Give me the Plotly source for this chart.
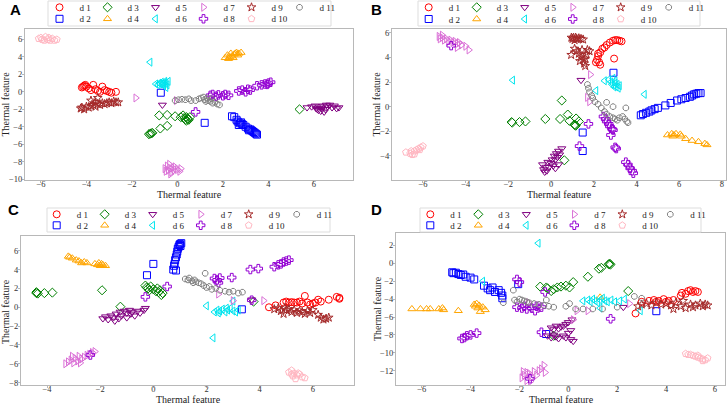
import plotly.graph_objects as go

# ---------------- class styles ----------------
names = ["d 1", "d 2", "d 3", "d 4", "d 5", "d 6", "d 7", "d 8", "d 9", "d 10", "d 11"]
colors = ["#ff0000", "#0000ff", "#008000", "#ffa500", "#800080", "#00e5ee",
          "#da70d6", "#9400d3", "#a52a2a", "#ffb6c1", "#808080"]
symbols = ["circle-open", "square-open", "diamond-open", "triangle-up-open",
           "triangle-down-open", "triangle-left-open", "triangle-right-open",
           "cross-open", "star-open", "pentagon-open", "octagon-open"]
sizes = [7, 7, 7, 7, 7, 7, 7, 7, 6.5, 7, 6]

# ---------------- Panel A ----------------
A_d1 = [(-4.2,0.5),(-4.15,0.6),(-4.1,0.7),(-4.05,0.8),(-4.0,0.6),(-3.9,0.4),(-3.7,0.8),(-3.6,0.3),
        (-3.5,0.1),(-3.3,0.6),(-3.2,0.2),(-3.1,0.1),(-3.0,0.0),(-2.9,-0.1),(-2.7,0.0),(-3.8,0.2),(-3.4,0.0)]
A_d2 = [(-0.73,-0.1),(1.2,-3.55),(2.4,-2.8),(2.5,-2.9),(2.6,-3.2),(2.65,-3.4),(2.7,-3.8),(2.75,-3.6),
        (2.8,-3.5),(2.9,-3.8),(3.0,-4.0),(3.1,-4.2),(3.15,-4.4),(3.2,-4.3),(3.3,-4.5),(3.35,-4.6),
        (3.4,-4.7),(3.45,-4.8),(3.5,-4.9),(3.25,-4.4),(2.85,-3.7)]
A_d3 = [(5.37,-2.0),(-0.8,-2.7),(-0.45,-2.65),(-0.1,-2.8),(0.15,-2.9),(0.25,-2.7),(0.3,-3.0),(0.35,-3.2),
        (0.4,-2.9),(0.45,-3.1),(0.5,-3.2),(0.55,-2.9),(0.4,-3.3),(-0.45,-3.9),(-0.75,-4.2),(-1.1,-4.7),
        (-1.2,-4.8),(-1.25,-4.85),(-1.15,-4.75)]
A_d4 = [(2.1,3.9),(2.2,4.2),(2.3,4.0),(2.35,4.4),(2.4,4.1),(2.5,4.3),(2.6,4.5),(2.7,4.4),(2.8,4.5),
        (2.45,3.9),(2.25,3.8),(2.65,4.2),(2.55,4.4)]
A_d5 = [(-0.66,-1.5),(5.7,-1.8),(5.9,-1.7),(6.05,-1.6),(6.1,-1.9),(6.2,-2.1),(6.25,-1.7),(6.3,-2.2),
        (6.35,-1.9),(6.4,-1.6),(6.5,-2.0),(6.55,-1.5),(6.6,-1.7),(6.7,-1.5),(6.8,-1.8),(6.9,-1.6),
        (7.0,-1.9),(7.1,-1.8),(6.45,-2.3),(6.15,-2.0)]
A_d6 = [(-1.2,3.4),(-0.95,0.9),(-0.85,0.8),(-0.8,1.0),(-0.75,0.9),(-0.7,1.1),(-0.65,0.9),(-0.6,1.0),
        (-0.55,1.2),(-0.5,1.0),(-0.45,0.8),(-0.5,0.5),(-0.6,0.7),(-0.4,1.2)]
A_d7 = [(-1.83,-0.7),(-0.05,-1.0),(-0.55,-8.8),(-0.45,-8.5),(-0.4,-9.0),(-0.35,-8.3),(-0.3,-8.8),
        (-0.25,-9.2),(-0.2,-8.7),(-0.15,-9.0),(-0.1,-8.6),(0.0,-8.9),(0.1,-9.1),(0.15,-8.8),(-0.3,-9.4),(-0.5,-9.1)]
A_d8 = [(0.8,-2.3),(1.45,-0.4),(1.55,-0.3),(1.7,-0.5),(1.8,-0.35),(2.0,-0.45),(2.1,-0.3),(2.25,-0.4),
        (2.7,0.1),(2.85,0.2),(3.0,0.0),(3.1,0.3),(3.2,0.2),(3.5,0.7),(3.7,0.8),(3.85,0.9),(4.0,1.0),
        (4.1,1.1),(3.95,0.85)]
A_d9 = [(-4.25,-1.9),(-4.2,-1.8),(-4.1,-2.0),(-4.0,-1.7),(-3.9,-1.8),(-3.8,-1.6),(-3.7,-1.5),(-3.6,-1.7),
        (-3.5,-0.7),(-3.5,-1.4),(-3.4,-1.5),(-3.3,-1.3),(-3.2,-1.4),(-3.1,-1.3),(-3.0,-1.2),(-2.9,-1.3),
        (-2.8,-1.1),(-2.7,-1.2),(-2.6,-1.2),(-3.6,-1.2),(-3.8,-1.0)]
A_d10 = [(-6.1,6.1),(-5.95,6.0),(-5.8,6.3),(-5.7,6.0),(-5.6,5.9),(-5.5,6.1),(-5.4,5.9),(-5.3,6.0),
         (-5.85,5.9),(-6.0,6.2),(-5.65,6.2)]
A_d11 = [(-0.1,-1.0),(0.05,-0.9),(0.2,-0.85),(0.35,-0.9),(0.5,-0.8),(0.6,-1.0),(0.8,-1.0),(0.95,-0.8),
         (1.05,-0.7),(1.15,-0.6),(1.2,-0.9),(1.3,-0.7),(1.35,-1.0),(1.45,-1.1),(1.5,-0.8),(1.55,-1.3),
         (1.65,-1.2),(1.75,-1.4),(1.85,-1.5),(1.25,-1.1)]

# ---------------- Panel B ----------------
B_d1 = [(2.1,3.6),(2.15,3.8),(2.2,4.1),(2.3,4.4),(2.4,4.7),(2.5,4.8),(2.6,5.0),(2.75,5.2),(2.9,5.35),
        (3.0,5.4),(3.1,5.4),(3.2,5.35),(3.3,5.3),(2.3,3.4),(2.95,3.9),(2.25,3.6),(2.2,4.3)]
B_d2 = [(2.92,2.75),(1.48,-2.1),(1.48,-3.6),(4.2,-0.7),(4.3,-0.6),(4.45,-0.5),(4.6,-0.4),(4.7,-0.3),
        (4.85,-0.2),(5.0,-0.1),(5.35,0.1),(5.6,0.3),(5.9,0.5),(6.1,0.6),(6.3,0.7),(6.5,0.8),(6.6,0.9),
        (6.7,1.0),(6.8,1.05),(6.9,1.1),(7.0,1.1)]
B_d3 = [(-1.82,-1.3),(-1.85,-1.25),(-1.48,-1.25),(-1.2,-1.2),(-0.27,-1.0),(0.5,0.5),(0.42,-1.0),
        (0.78,-0.64),(0.86,-1.15),(1.12,-1.5),(1.1,-1.45),(1.15,-1.55),(1.17,-0.96),(1.3,-1.2),(0.62,-4.35)]
B_d4 = [(5.45,-2.3),(5.65,-2.2),(5.75,-2.3),(5.85,-2.2),(6.05,-2.25),(6.3,-2.6),(6.6,-2.75),(6.9,-2.85),
        (7.2,-3.0),(7.3,-3.1),(5.7,-2.4),(6.1,-2.4)]
B_d5 = [(1.4,2.15),(-0.4,-4.7),(-0.35,-5.1),(-0.3,-5.3),(-0.25,-4.9),(-0.2,-5.2),(-0.1,-4.9),(0.0,-4.6),
        (0.05,-4.3),(0.1,-4.8),(0.15,-4.0),(0.2,-4.3),(0.25,-3.8),(0.3,-4.1),(0.35,-3.6),(0.4,-3.9),
        (0.35,-4.7),(0.5,-3.4),(-0.15,-4.5),(0.2,-5.0)]
B_d6 = [(-1.8,2.15),(4.37,1.0),(2.1,1.3),(2.5,2.1),(2.7,2.2),(2.8,2.0),(2.85,1.8),(2.9,2.3),(3.0,1.9),
        (3.05,1.6),(3.1,1.8),(3.15,1.5),(3.2,1.7),(2.95,1.6),(3.0,2.1)]
B_d7 = [(-5.25,5.7),(-5.2,5.5),(-5.1,5.6),(-5.0,5.4),(-4.9,5.5),(-4.8,5.3),(-4.7,5.4),(-4.6,5.2),
        (-4.5,5.3),(-4.4,5.1),(-4.3,5.2),(-4.2,5.0),(-4.0,4.9),(-3.85,4.6),(-4.4,4.8),(-5.1,5.8),
        (1.84,2.6),(1.7,0.75),(1.8,0.4)]
B_d8 = [(-4.68,4.95),(1.33,-3.2),(1.75,-1.4),(2.45,-0.8),(2.55,-1.0),(2.6,-1.2),(2.7,-1.4),(2.75,-1.6),
        (2.85,-1.8),(2.9,-1.9),(2.8,-2.3),(3.0,-3.3),(3.05,-3.4),(3.5,-4.5),(3.6,-4.7),(3.7,-5.0),
        (3.8,-5.2),(3.85,-5.4)]
B_d9 = [(0.95,5.6),(1.0,5.5),(1.05,5.6),(1.1,5.4),(1.15,5.6),(1.2,5.5),(1.3,5.55),(1.4,5.5),(1.5,5.45),
        (0.94,4.2),(1.1,4.7),(1.2,4.5),(1.3,4.3),(1.4,4.0),(1.45,4.6),(1.5,3.8),(1.55,3.5),(1.6,3.3),
        (1.7,4.6),(1.8,4.5),(1.65,4.2),(1.35,3.7),(1.6,3.9)]
B_d10 = [(-6.8,-3.7),(-6.6,-3.8),(-6.5,-3.9),(-6.4,-3.6),(-6.3,-3.5),(-6.2,-3.4),(-6.1,-3.3),(-6.0,-3.2),
         (-6.4,-3.85),(-6.15,-3.5),(-6.55,-3.6)]
B_d11 = [(1.7,1.8),(1.75,1.5),(1.8,1.2),(1.9,0.9),(1.95,0.7),(2.05,0.4),(2.2,0.2),(2.35,-0.1),(2.5,-0.4),
         (2.6,-0.6),(2.75,-0.8),(2.9,-0.9),(3.0,-1.0),(3.2,-0.9),(3.35,-0.8),(3.45,-1.0),(3.55,-1.2),
         (3.6,-1.3),(3.5,-0.1),(2.9,0.0),(2.6,0.35),(3.1,-1.1)]

# ---------------- Panel C ----------------
C_d1 = [(4.35,0.0),(4.6,0.2),(4.9,0.5),(5.0,0.6),(5.1,0.5),(5.2,0.55),(5.3,0.5),(5.4,0.5),(5.5,0.6),
        (5.6,0.4),(5.7,1.2),(5.8,0.5),(6.0,0.4),(6.2,0.8),(6.3,0.6),(6.6,0.8),(6.9,1.1),(7.0,0.9),
        (7.0,1.0),(6.1,0.5),(5.9,0.3)]
C_d2 = [(-0.24,3.4),(0.0,4.6),(0.75,4.0),(0.78,4.4),(0.8,4.6),(0.82,5.0),(0.85,5.3),(0.88,5.6),(0.9,5.9),
        (0.92,6.2),(0.95,6.4),(0.98,6.6),(1.0,6.7),(1.05,6.8),(1.02,6.5),(0.85,3.9),(3.33,-0.22)]
C_d3 = [(-4.4,1.5),(-4.35,1.45),(-4.4,1.6),(-4.1,1.5),(-3.8,1.55),(-1.93,1.8),(-1.24,0.06),(-0.3,2.3),
        (-0.25,2.1),(-0.2,2.0),(-0.15,1.8),(-0.1,2.2),(0.0,1.9),(0.1,1.7),(0.15,2.0),(0.2,1.6),(0.3,1.3),
        (0.35,1.5),(0.25,1.8),(3.77,0.6)]
C_d4 = [(-3.2,5.4),(-3.15,5.3),(-3.05,5.2),(-2.9,5.0),(-2.8,4.9),(-2.7,4.7),(-2.6,4.8),(-2.5,4.7),
        (-2.2,4.6),(-2.1,4.5),(-2.05,4.7),(-1.95,4.6),(-1.9,4.5),(-1.8,4.4),(-2.0,4.4)]
C_d5 = [(-1.9,-1.2),(-1.8,-1.0),(-1.7,-1.3),(-1.6,-0.9),(-1.5,-1.1),(-1.4,-0.7),(-1.3,-1.2),(-1.25,-0.5),
        (-1.2,-0.9),(-1.1,-0.4),(-1.0,-0.6),(-0.9,-0.3),(-0.85,-0.7),(-0.8,-0.5),(-0.7,-0.9),(-0.6,-0.4),
        (-0.5,-0.6),(-0.35,-0.3),(-1.45,-1.45),(-1.0,-1.1),(-0.3,-0.1),(3.7,0.8)]
C_d6 = [(2.0,0.15),(2.25,-3.25),(2.3,-0.5),(2.4,-0.3),(2.5,-0.4),(2.6,-0.2),(2.7,-0.5),(2.8,-0.3),
        (2.9,-0.1),(3.0,-0.4),(3.1,-0.5),(3.2,-0.3),(3.0,0.65),(2.45,-0.6),(2.75,-0.1)]
C_d7 = [(-3.3,-6.0),(-3.2,-5.8),(-3.1,-5.6),(-3.0,-5.9),(-2.95,-5.4),(-2.85,-5.7),(-2.8,-5.2),(-2.7,-5.5),
        (-2.6,-5.3),(-2.5,-5.1),(-2.4,-5.0),(-2.3,-4.8),(-2.2,-4.7),(-3.05,-5.2),(-2.75,-5.9),
        (2.45,1.4),(3.0,0.7),(4.15,0.7)]
C_d8 = [(-2.37,-5.07),(-0.3,1.1),(0.52,2.2),(2.3,3.05),(2.4,2.9),(2.45,2.6),(2.5,3.1),(2.95,3.15),
        (3.65,4.0),(3.95,4.1),(4.55,4.3),(4.7,4.5),(4.8,4.6),(4.9,4.8),(5.0,4.9),(5.1,5.0),(3.7,0.75)]
C_d9 = [(4.55,-0.2),(4.7,-0.1),(4.8,-0.4),(4.9,-0.7),(5.0,-0.3),(5.1,-0.2),(5.2,-0.5),(5.3,-0.3),
        (5.4,-0.6),(5.5,-0.4),(5.6,-0.5),(5.7,-0.7),(5.8,-0.4),(5.9,-0.6),(6.0,-0.3),(6.3,-1.1),
        (6.4,-1.3),(6.5,-1.2),(6.6,-1.1),(6.2,-0.8),(4.95,-0.05)]
C_d10 = [(5.1,-6.9),(5.2,-7.1),(5.25,-7.3),(5.3,-7.0),(5.4,-7.2),(5.5,-7.1),(5.6,-7.4),(5.7,-7.5),
         (5.35,-7.6),(5.45,-7.0),(5.2,-6.7)]
C_d11 = [(1.2,3.0),(1.3,2.9),(1.35,3.1),(1.45,2.8),(1.55,2.9),(1.6,2.7),(1.7,2.6),(1.8,2.5),(1.9,2.3),
         (2.0,2.1),(2.1,2.2),(2.2,1.9),(2.35,2.0),(2.5,1.8),(2.7,1.7),(2.85,1.6),(3.0,1.7),(3.2,1.5),
         (3.35,1.6),(1.95,3.6),(1.5,2.6)]

# ---------------- Panel D ----------------
D_d1 = [(2.75,-5.6),(3.0,-4.3),(3.3,-4.2),(3.5,-4.1),(3.7,-4.2),(3.9,-4.0),(4.1,-4.2),(4.3,-4.1),
        (4.6,-3.6),(4.65,-3.3),(4.9,-3.1),(5.0,-3.0),(5.1,-3.2),(5.2,-3.1),(5.3,-3.2),(4.8,-3.4),
        (4.0,-4.3),(3.6,-4.3)]
D_d2 = [(-4.75,-1.0),(-4.7,-1.1),(-4.6,-1.05),(-4.5,-1.2),(-4.4,-1.3),(-4.3,-1.25),(-4.2,-1.5),(-4.0,-1.6),
        (-3.85,-1.8),(-3.45,-2.5),(-3.3,-2.8),(-3.2,-3.0),(-3.0,-3.2),(-2.85,-3.0),(-2.75,-3.3),(-2.7,-3.6),
        (-2.7,-3.9),(-3.1,-2.7),(-2.05,-2.33),(-0.91,-7.9),(3.6,-5.35)]
D_d3 = [(-1.15,-2.6),(-0.9,-2.7),(-0.85,-2.8),(-0.7,-3.1),(-0.6,-2.9),(-0.45,-2.7),(-0.3,-2.6),(-0.1,-2.5),
        (0.05,-2.7),(0.2,-2.1),(0.8,-1.5),(1.25,-0.6),(1.35,-0.5),(1.65,-0.1),(1.7,-0.05),(1.72,-0.15),
        (2.45,-3.1),(-0.6,-8.1)]
D_d4 = [(-6.4,-5.1),(-6.05,-5.1),(-5.8,-5.1),(-5.65,-5.1),(-5.3,-5.1),(-5.15,-5.0),(-5.1,-5.2),(-4.5,-5.3),
        (-3.85,-4.6),(-3.8,-4.8),(-3.7,-5.0),(-3.6,-5.4),(-3.5,-4.9),(-3.4,-5.2),(-3.75,-4.5),(-3.65,-4.7),
        (1.3,-3.8)]
D_d5 = [(-0.7,-7.2),(-0.6,-7.4),(-0.5,-7.0),(-0.4,-7.3),(-0.3,-7.1),(-0.2,-7.0),(-0.1,-6.8),(0.0,-6.6),
        (0.15,-6.3),(-0.85,-8.1),(-0.7,-8.3),(-0.6,-8.0),(-0.5,-8.2),(-0.4,-8.4),(-0.2,-8.1),(-0.1,-8.3),
        (0.1,-8.5),(0.2,-8.7),(0.1,-7.5),(0.0,-7.8),(2.25,-4.9)]
D_d6 = [(-1.23,2.25),(-3.5,-2.0),(0.6,-4.2),(0.8,-4.1),(0.9,-4.3),(1.0,-4.0),(1.1,-4.2),(1.2,-4.4),
        (1.3,-4.1),(1.4,-3.9),(1.5,-4.2),(1.6,-4.3),(1.75,-4.1),(1.9,-4.3),(2.1,-4.2),(2.3,-4.0),
        (1.3,-5.0),(2.95,-5.3)]
D_d7 = [(-1.9,-12.8),(-1.8,-12.5),(-1.7,-13.1),(-1.6,-12.3),(-1.5,-12.7),(-1.4,-12.1),(-1.3,-12.5),
        (-1.2,-12.0),(-1.1,-11.8),(-1.0,-11.4),(-0.95,-12.2),(-1.7,-12.2),(-1.55,-13.2),(-1.85,-12.1),
        (-1.63,-4.4),(-1.16,-5.0),(0.35,-5.3),(0.8,-5.3),(2.5,-4.5),(0.2,-6.3)]
D_d8 = [(-4.35,-8.4),(-4.25,-8.3),(-4.15,-8.1),(-4.0,-8.0),(-3.75,-7.8),(-2.1,-1.8),(-2.0,-2.1),
        (-2.1,-4.9),(-1.9,-5.0),(-1.8,-4.8),(-1.7,-5.1),(-1.5,-5.0),(-1.3,-4.8),(-1.1,-4.9),(-1.36,-5.3),
        (-0.95,-3.2),(-1.1,-7.7),(1.73,-6.2),(-1.57,-12.9)]
D_d9 = [(2.85,-4.8),(3.0,-4.6),(3.2,-4.5),(3.4,-4.7),(3.6,-4.4),(3.8,-4.6),(4.0,-4.5),(4.2,-4.7),
        (4.4,-4.4),(4.6,-4.8),(4.7,-4.2),(4.8,-5.0),(5.0,-4.6),(5.2,-4.7),(5.4,-4.5),(5.5,-4.8),
        (5.6,-4.6),(5.7,-4.7),(4.3,-5.1),(5.1,-4.9)]
D_d10 = [(4.8,-10.1),(4.9,-10.2),(5.0,-10.2),(5.1,-10.3),(5.2,-10.4),(5.3,-10.5),(5.4,-10.6),(5.5,-10.7),
         (5.6,-10.8),(5.7,-10.6),(5.5,-10.9),(5.3,-10.3)]
D_d11 = [(-2.25,-3.0),(-2.66,-4.4),(-2.2,-4.1),(-2.1,-4.3),(-2.0,-4.0),(-1.9,-4.1),(-1.8,-4.2),(-1.7,-4.3),
         (-1.6,-4.4),(-1.4,-4.5),(-1.2,-4.6),(-1.0,-4.7),(-0.8,-4.8),(-0.6,-4.9),(-0.9,-4.1),(-0.1,-4.8),
         (0.05,-4.5),(0.3,-5.1),(0.6,-5.1),(1.0,-5.1),(1.4,-5.1),(2.0,-4.9),(2.7,-3.7),(3.0,-3.9)]

panel_data = {
    "A": [A_d1, A_d2, A_d3, A_d4, A_d5, A_d6, A_d7, A_d8, A_d9, A_d10, A_d11],
    "B": [B_d1, B_d2, B_d3, B_d4, B_d5, B_d6, B_d7, B_d8, B_d9, B_d10, B_d11],
    "C": [C_d1, C_d2, C_d3, C_d4, C_d5, C_d6, C_d7, C_d8, C_d9, C_d10, C_d11],
    "D": [D_d1, D_d2, D_d3, D_d4, D_d5, D_d6, D_d7, D_d8, D_d9, D_d10, D_d11],
}

# ---------------- layout geometry (pixels) ----------------
W, H = 727, 404
frames = {"A": (25, 353, 29, 180), "B": (392, 726, 29, 180),
          "C": (21, 354, 236, 385), "D": (396, 725, 233, 385)}
ranges = {"A": ([-6.7, 7.72], [-10.1, 7.2]), "B": ([-7.45, 8.19], [-5.95, 6.3]),
          "C": ([-4.98, 7.55], [-8.25, 7.56]), "D": ([-7.05, 6.41], [-13.6, 3.39])}
legends = {"A": (59.5, 7.3, 18.8, (48, 331, 1, 26)),
           "B": (428.7, 7.3, 19.0, (418, 700, 1, 26)),
           "C": (56.7, 214.3, 225.3, (47, 330, 208, 232)),
           "D": (430.3, 214.3, 225.3, (420, 701, 208, 232))}
letters = {"A": (15, 9), "B": (376, 9), "C": (13, 209), "D": (376, 209)}
xtitles = {"A": (189, 194), "B": (559, 194), "C": (188, 399), "D": (561, 399)}
ytitles = {"A": (5, 104.5), "B": (376, 104.5), "C": (5, 312), "D": (377, 309)}

serif = "Liberation Serif"
fig = go.Figure()
layout = dict(width=W, height=H, margin=dict(l=0, r=0, t=0, b=0, autoexpand=False),
              paper_bgcolor="white", plot_bgcolor="white", showlegend=True)
shapes, annotations = [], []

for pi, key in enumerate(["A", "B", "C", "D"]):
    n = pi + 1
    xa = "x" if n == 1 else f"x{n}"
    ya = "y" if n == 1 else f"y{n}"
    l, r, t, b = frames[key]
    xr, yr = ranges[key]
    axis_common = dict(showgrid=False, zeroline=False, showline=True, mirror=True,
                       linecolor="#b8b8b8", linewidth=1, ticks="outside", ticklen=2,
                       tickcolor="#b8b8b8", dtick=2, tick0=0,
                       tickfont=dict(family=serif, size=8.5, color="#333333"),
                       automargin=False)
    layout["xaxis" if n == 1 else f"xaxis{n}"] = dict(
        axis_common, domain=[l / W, r / W], range=xr, anchor=ya, ticklabelstandoff=-6)
    layout["yaxis" if n == 1 else f"yaxis{n}"] = dict(
        axis_common, domain=[1 - b / H, 1 - t / H], range=yr, anchor=xa, ticklabelstandoff=-2)

    mx, ry1, ry2, box = legends[key]
    leg1 = "legend" if pi == 0 else f"legend{2 * pi + 1}"
    leg2 = f"legend{2 * pi + 2}"
    for lg, ry in ((leg1, ry1), (leg2, ry2)):
        # legend row of height 29 px, item centred 14.5 px below its top
        layout[lg] = dict(orientation="h", x=(mx - 20) / W, y=1 - (ry - 14.5) / H,
                          xanchor="left", yanchor="top", bgcolor="rgba(0,0,0,0)",
                          borderwidth=0, font=dict(family=serif, size=9, color="#222222"),
                          entrywidth=3, entrywidthmode="pixels", itemwidth=30,
                          itemclick=False, itemdoubleclick=False)
    bx0, bx1, by0, by1 = box
    shapes.append(dict(type="rect", xref="paper", yref="paper", x0=bx0 / W, x1=bx1 / W,
                       y0=1 - by1 / H, y1=1 - by0 / H, line=dict(color="#dddddd", width=1)))
    lx, ly = letters[key]
    annotations.append(dict(text=f"<b>{key}</b>", xref="paper", yref="paper", x=lx / W,
                            y=1 - ly / H, xanchor="center", yanchor="middle", showarrow=False,
                            font=dict(family="Liberation Sans", size=15, color="black")))
    tx, ty = xtitles[key]
    annotations.append(dict(text="Thermal feature", xref="paper", yref="paper", x=tx / W,
                            y=1 - ty / H, xanchor="center", yanchor="middle", showarrow=False,
                            font=dict(family=serif, size=10, color="#222222")))
    tx, ty = ytitles[key]
    annotations.append(dict(text="Thermal feature", xref="paper", yref="paper", x=tx / W,
                            y=1 - ty / H, xanchor="center", yanchor="middle", showarrow=False,
                            textangle=-90, font=dict(family=serif, size=10, color="#222222")))

    for ci, pts in enumerate(panel_data[key]):
        last = ci >= 9
        fig.add_trace(go.Scatter(
            x=[p[0] for p in pts], y=[p[1] for p in pts], mode="markers",
            name=names[ci], xaxis=xa, yaxis=ya,
            legend=leg1 if ci % 2 == 0 else leg2,
            legendwidth=30 if last else None,
            marker=dict(symbol=symbols[ci], size=sizes[ci], color=colors[ci],
                        line=dict(width=1, color=colors[ci])),
            hoverinfo="skip"))

layout["shapes"] = shapes
layout["annotations"] = annotations
fig.update_layout(**layout)
fig.write_html("out.html")
